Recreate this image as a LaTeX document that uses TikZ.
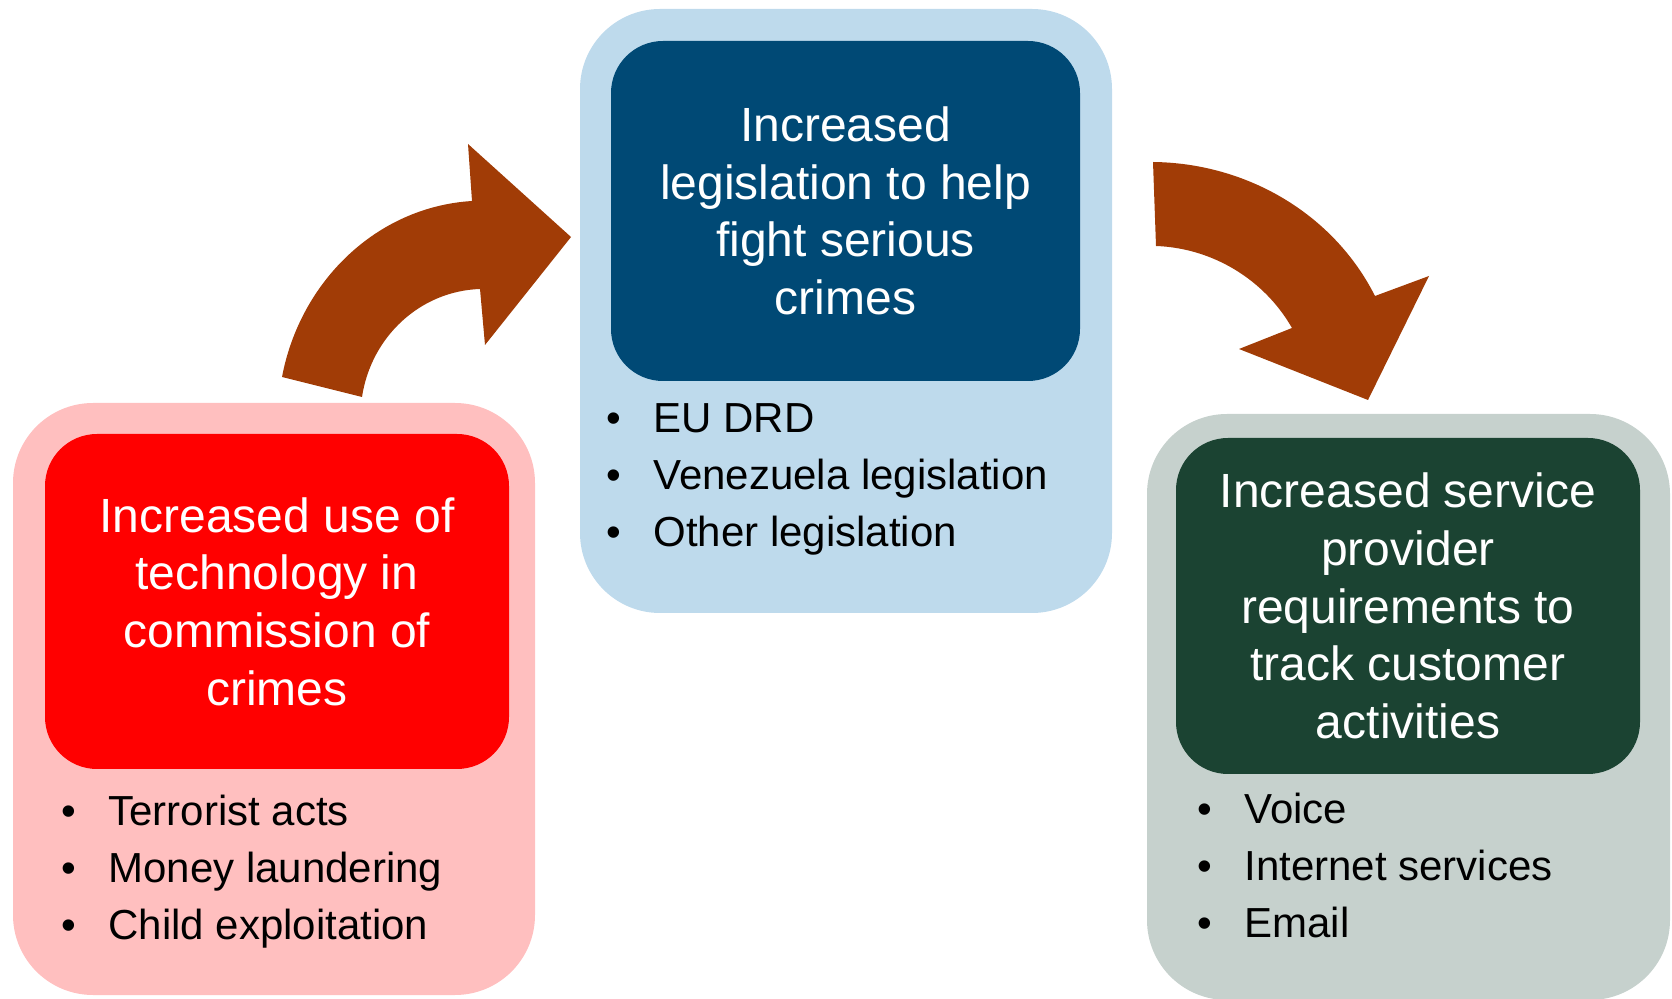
\documentclass[tikz,border=0pt]{standalone}
\usepackage{fontspec}
\setmainfont{Liberation Sans}
\usepackage{xcolor}
\definecolor{crimepink}{RGB}{255,191,191}
\definecolor{crimered}{RGB}{255,0,0}
\definecolor{lawsky}{RGB}{190,218,236}
\definecolor{lawblue}{RGB}{0,73,117}
\definecolor{provgrey}{RGB}{198,209,205}
\definecolor{provgreen}{RGB}{27,67,50}
\definecolor{flowbrown}{RGB}{161,60,6}

\begin{document}
\begin{tikzpicture}[x=0.5pt, y=-0.5pt,
        panel/.style={rectangle, rounded corners=40pt, inner sep=0pt, outer sep=0pt},
        headbox/.style={rectangle, rounded corners=26pt, inner sep=0pt, outer sep=0pt,
            text=white, align=center, font=\fontsize{24}{28.8}\selectfont},
        item/.style={anchor=west, inner sep=0pt, text height=15pt, text depth=0pt,
            font=\fontsize{21}{25}\selectfont}]
        \useasboundingbox (0,0) rectangle (1672,999);

        % backgrounds
        \node[panel, fill=crimepink, minimum width=261pt, minimum height=296pt] (crimesbg) at (274,699) {};
        \node[panel, fill=lawsky, minimum width=266pt, minimum height=302pt] (lawbg) at (846,311) {};
        \node[panel, fill=provgrey, minimum width=261.5pt, minimum height=293pt] (provbg) at (1408.5,707) {};

        % headings
        \node[headbox, fill=crimered, minimum width=232pt, minimum height=167.5pt] (crimes) at (277,601.5)
            {Increased use of\\technology in\\commission of\\crimes};
        \node[headbox, fill=lawblue, minimum width=234.5pt, minimum height=170pt] (law) at (845.5,211)
            {Increased\\legislation to help\\fight serious\\crimes};
        \node[headbox, fill=provgreen, minimum width=232pt, minimum height=168pt] (prov) at (1408,606)
            {Increased service\\provider\\requirements to\\track customer\\activities};

        % bullet lists
        \foreach \txt [count=\i from 0] in {Terrorist acts, Money laundering, Child exploitation}
            \node[item] (crimeitem\i) at (61,{811+56.7*\i}) {\makebox[23.5pt][l]{\textbullet}\txt};
        \foreach \txt [count=\i from 0] in {EU DRD, Venezuela legislation, Other legislation}
            \node[item] (lawitem\i) at (606,{418+56.7*\i}) {\makebox[23.5pt][l]{\textbullet}\txt};
        \foreach \txt [count=\i from 0] in {Voice, Internet services, Email}
            \node[item] (provitem\i) at (1197,{809+56.7*\i}) {\makebox[23.5pt][l]{\textbullet}\txt};

        % curved block arrows
        \fill[flowbrown] (282,377) -- (362,397) .. controls (371,337) and (420,291) .. (480,289)
            -- (485,345) -- (571,237) -- (468,144) -- (472,201)
            .. controls (376,207) and (300,282) .. (282,377) -- cycle;
        \fill[flowbrown] (1153,162) .. controls (1246,163) and (1333,213) .. (1375,296)
            -- (1429,276) -- (1368,400) -- (1239,349) -- (1292,328)
            .. controls (1264,279) and (1212,248) .. (1156,246) -- cycle;

        \end{tikzpicture}
\end{document}
